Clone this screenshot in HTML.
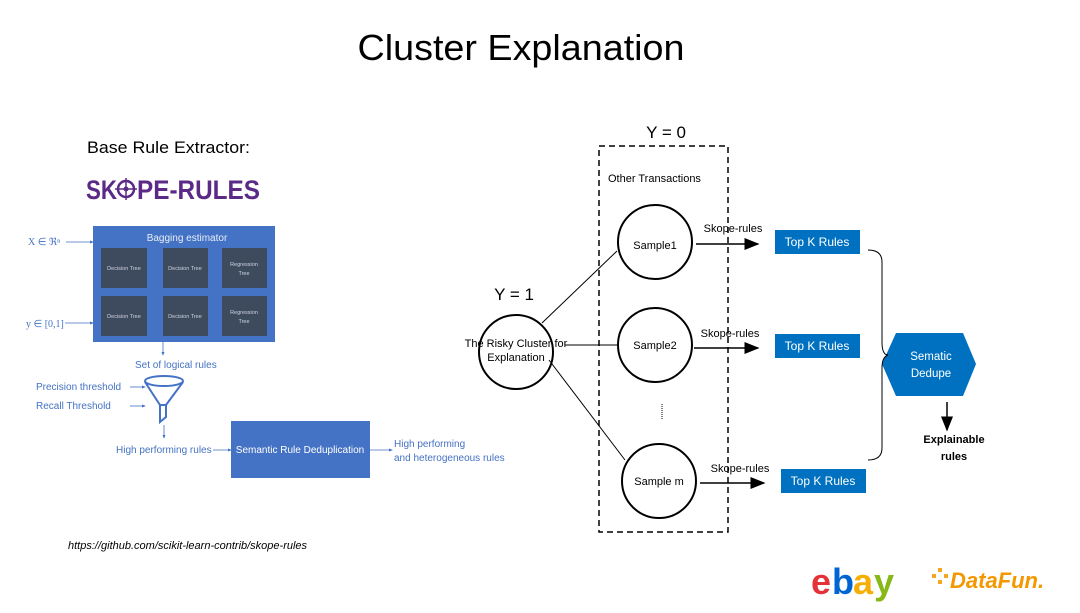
<!DOCTYPE html>
<html><head><meta charset="utf-8"><style>
body{margin:0;width:1080px;height:608px;background:#fff;overflow:hidden;font-family:"Liberation Sans",sans-serif}
</style></head><body>
<svg width="1080" height="608" xmlns="http://www.w3.org/2000/svg" font-family="Liberation Sans, sans-serif">
<defs>
<marker id="a" markerWidth="10" markerHeight="8" refX="9" refY="4" orient="auto"><path d="M0,0L10,4L0,8z" fill="#000"/></marker>
<marker id="b" markerWidth="5" markerHeight="4" refX="4" refY="2" orient="auto"><path d="M0,0L5,2L0,4z" fill="#4472c4"/></marker>
</defs>
<text x="521" y="60" font-size="36" text-anchor="middle" fill="#000" textLength="327" lengthAdjust="spacingAndGlyphs">Cluster Explanation</text>
<text x="87" y="153" font-size="17" fill="#000" textLength="163" lengthAdjust="spacingAndGlyphs">Base Rule Extractor:</text>
<text x="86" y="199" font-size="27" font-weight="bold" fill="#5b2a86" textLength="31" lengthAdjust="spacingAndGlyphs">SK</text>
<text x="137" y="199" font-size="27" font-weight="bold" fill="#5b2a86" textLength="123" lengthAdjust="spacingAndGlyphs">PE-RULES</text>
<circle cx="126" cy="189" r="8" fill="none" stroke="#5b2a86" stroke-width="2.5"/><circle cx="126" cy="189" r="2.5" fill="#5b2a86"/>
<line x1="126" y1="178" x2="126" y2="200" stroke="#5b2a86" stroke-width="1.5"/><line x1="115" y1="189" x2="137" y2="189" stroke="#5b2a86" stroke-width="1.5"/>
<!-- bagging -->
<rect x="93" y="226" width="182" height="116" fill="#4472c4"/>
<text x="187" y="241" font-size="10" fill="#e8eef8" text-anchor="middle">Bagging estimator</text>
<g fill="#3e4a5e">
<rect x="101" y="248" width="46" height="40"/><rect x="163" y="248" width="45" height="40"/><rect x="222" y="248" width="45" height="40"/>
<rect x="101" y="296" width="46" height="40"/><rect x="163" y="296" width="45" height="40"/><rect x="222" y="296" width="45" height="40"/>
</g>
<g fill="#cfd6e2" font-size="5.5" text-anchor="middle">
<text x="124" y="270">Decision Tree</text><text x="185" y="270">Decision Tree</text><text x="244" y="266">Regression</text><text x="244" y="275">Tree</text>
<text x="124" y="318">Decision Tree</text><text x="185" y="318">Decision Tree</text><text x="244" y="314">Regression</text><text x="244" y="323">Tree</text>
</g>
<g fill="#4472c4" font-size="10">
<text x="28" y="245" font-family="Liberation Serif, serif">X ∈ ℜⁿ</text>
<text x="26" y="327" font-family="Liberation Serif, serif">y ∈ [0,1]</text>
<text x="135" y="368">Set of logical rules</text>
<text x="36" y="390">Precision threshold</text>
<text x="36" y="409">Recall Threshold</text>
<text x="116" y="453">High performing rules</text>
<text x="394" y="447">High performing</text>
<text x="394" y="461">and heterogeneous rules</text>
</g>
<g stroke="#4472c4" stroke-width="0.8" fill="none" marker-end="url(#b)">
<line x1="66" y1="242" x2="93" y2="242"/><line x1="65" y1="323" x2="93" y2="323"/>
<line x1="163" y1="342" x2="163" y2="355"/><line x1="130" y1="387" x2="145" y2="387"/><line x1="130" y1="406" x2="145" y2="406"/>
<line x1="164" y1="425" x2="164" y2="438"/><line x1="213" y1="450" x2="231" y2="450"/><line x1="370" y1="450" x2="392" y2="450"/>
</g>
<g stroke="#4472c4" stroke-width="2" fill="none">
<ellipse cx="164" cy="381" rx="19" ry="5"/><path d="M145,382L160,405L166,405L183,382M160,405L160,422L166,417L166,405"/>
</g>
<rect x="231" y="421" width="139" height="57" fill="#4472c4"/>
<text x="300" y="453" font-size="10" fill="#fff" text-anchor="middle">Semantic Rule Deduplication</text>
<text x="68" y="549" font-size="11" font-style="italic" fill="#000">https://github.com/scikit-learn-contrib/skope-rules</text>
<!-- right diagram -->
<text x="666" y="138" font-size="17" text-anchor="middle">Y = 0</text>
<rect x="599" y="146" width="129" height="386" fill="none" stroke="#000" stroke-width="1.5" stroke-dasharray="6,4"/>
<text x="608" y="182" font-size="11">Other Transactions</text>
<text x="514" y="300" font-size="17" text-anchor="middle">Y = 1</text>
<g stroke="#000" stroke-width="1" fill="none">
<line x1="542" y1="323" x2="617" y2="251"/><line x1="565" y1="345" x2="618" y2="345"/><line x1="549" y1="360" x2="625" y2="460"/>
</g>
<g stroke="#000" stroke-width="2" fill="none">
<circle cx="516" cy="352" r="37"/><circle cx="655" cy="242" r="37"/><circle cx="655" cy="345" r="37"/><circle cx="659" cy="481" r="37"/>
</g>
<g font-size="11" text-anchor="middle">
<text x="516" y="347">The Risky Cluster for</text><text x="516" y="361">Explanation</text>
<text x="655" y="249">Sample1</text><text x="655" y="349">Sample2</text><text x="659" y="485">Sample m</text>
<text x="733" y="232">Skope-rules</text><text x="730" y="337">Skope-rules</text><text x="740" y="472">Skope-rules</text>
</g>
<line x1="662" y1="404" x2="662" y2="420" stroke="#000" stroke-dasharray="1,1"/>
<g stroke="#000" stroke-width="1.5" marker-end="url(#a)">
<line x1="696" y1="244" x2="758" y2="244"/><line x1="694" y1="348" x2="758" y2="348"/><line x1="700" y1="483" x2="764" y2="483"/>
<line x1="947" y1="402" x2="947" y2="430"/>
</g>
<g fill="#0070c0">
<rect x="775" y="230" width="85" height="24"/><rect x="775" y="334" width="85" height="24"/><rect x="781" y="469" width="85" height="24"/>
<polygon points="896,333 963,333 976,364 963,396 896,396 882,364"/>
</g>
<g fill="#fff" font-size="12" text-anchor="middle">
<text x="817" y="246">Top K Rules</text><text x="817" y="350">Top K Rules</text><text x="823" y="485">Top K Rules</text>
<text x="931" y="360" font-size="11.5">Sematic</text><text x="931" y="377" font-size="11.5">Dedupe</text>
</g>
<path d="M868,250Q882,250 882,262L882,342Q882,355 888,355Q882,357 882,368L882,448Q882,460 868,460" fill="none" stroke="#000" stroke-width="1"/>
<g font-size="11" font-weight="bold" text-anchor="middle"><text x="954" y="443">Explainable</text><text x="954" y="460">rules</text></g>
<!-- logos -->
<g font-size="36" font-weight="bold" letter-spacing="-2"><text x="811" y="594" fill="#e53238">e</text><text x="832" y="594" fill="#0064d2">b</text><text x="853" y="594" fill="#f5af02">a</text><text x="874" y="594" fill="#86b817">y</text></g>
<g fill="#f5a623"><rect x="932" y="574" width="4" height="4"/><rect x="938" y="568" width="4" height="4"/><rect x="938" y="580" width="4" height="4"/><rect x="944" y="574" width="4" height="4"/></g>
<text x="950" y="588" font-size="22" font-weight="bold" font-style="italic" fill="#f39800">DataFun.</text>
</svg>
</body></html>
